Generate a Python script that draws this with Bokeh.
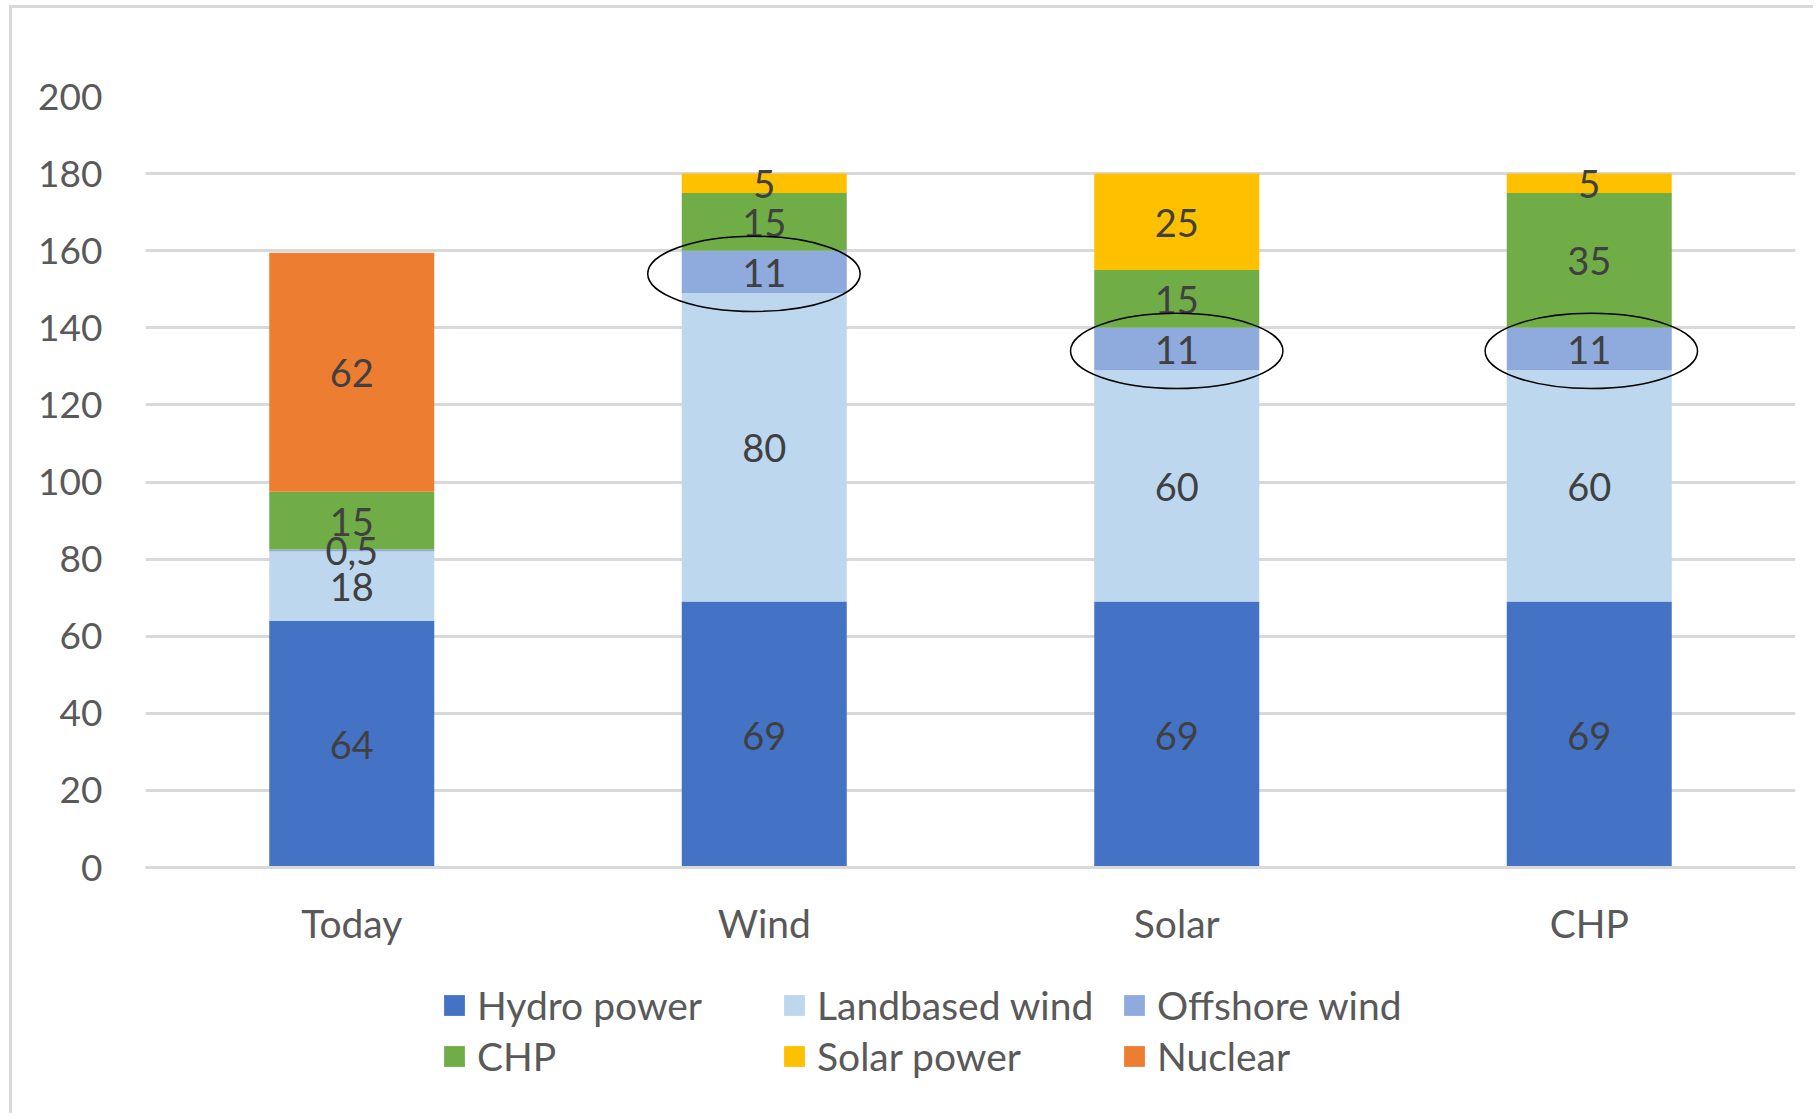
from bokeh.plotting import figure
from bokeh.models import (ColumnDataSource, FactorRange, Range1d, FixedTicker, Legend, LegendItem)
from bokeh.transform import dodge
from bokeh.core.properties import value
from bokeh.embed import file_html
from bokeh.resources import INLINE

# ---------------- data ----------------
categories = ["Today", "Wind", "Solar", "CHP"]
series_names = ["Hydro power", "Landbased wind", "Offshore wind", "CHP", "Solar power", "Nuclear"]
hydro = [64, 69, 69, 69]
landbased = [18, 80, 60, 60]
offshore = [0.5, 11, 11, 11]
chp = [15, 15, 15, 35]
solar = [0, 5, 25, 5]
nuclear = [62, 0, 0, 0]
colors = ["#4472C4", "#BDD7EE", "#8FAADC", "#70AD47", "#FFC000", "#ED7D31"]
y_ticks = [0, 20, 40, 60, 80, 100, 120, 140, 160, 180, 200]
circled_cats = ["Wind", "Solar", "CHP"]   # offshore wind labels circled
circle_offsets = [-0.025, 0.0, 0.005]

FONT = "Lato"
series = [hydro, landbased, offshore, chp, solar, nuclear]
keys = ["s%d" % i for i in range(len(series))]

data = {"cat": categories}
for k, s in zip(keys, series):
    data[k] = s
src = ColumnDataSource(data)

# y range extends below 0 so that the category labels and legend sit inside the frame
p = figure(x_range=FactorRange(*categories), y_range=Range1d(-62.5, 200),
           width=1804, height=1108, output_backend="svg", toolbar_location=None,
           min_border_left=133, min_border_right=21, min_border_top=88, min_border_bottom=8)
p.styles = {"margin-left": "9px", "margin-top": "5px",
            "border-left": "3px solid #d9d9d9", "border-top": "3px solid #d9d9d9"}
p.outline_line_color = None
p.background_fill_color = "white"
p.border_fill_color = "white"

renderers = p.vbar_stack(keys, x="cat", width=0.4, color=colors, source=src, line_color=None)

# data labels
lab_x, lab_y, lab_t = [], [], []
for j, c in enumerate(categories):
    base = 0.0
    for s in series:
        v = s[j]
        if v > 0:
            lab_x.append(c)
            lab_y.append(base + v / 2.0)
            lab_t.append(("%g" % v).replace(".", ","))
        base += v
p.text(x=lab_x, y=lab_y, text=lab_t, text_align="center", text_baseline="middle",
       y_offset=1, text_font=value(FONT), text_font_size="38px", text_color="#404040")

# ellipses around offshore wind labels
for c, off in zip(circled_cats, circle_offsets):
    j = categories.index(c)
    mid = hydro[j] + landbased[j] + offshore[j] / 2.0
    es = ColumnDataSource({"cat": [c], "y": [mid - 0.5]})
    p.ellipse(x=dodge("cat", off, range=p.x_range), y="y", width=0.515, height=19.5,
              source=es, fill_color=None, line_color="black", line_width=1.5)

# axes / grid
p.xgrid.grid_line_color = None
p.ygrid.grid_line_color = "#d9d9d9"
p.ygrid.grid_line_width = 3
p.yaxis.ticker = FixedTicker(ticks=y_ticks)
p.yaxis.axis_line_color = None
p.yaxis.major_tick_line_color = None
p.yaxis.minor_tick_line_color = None
p.yaxis.major_label_standoff = 37
p.yaxis.major_label_text_font = FONT
p.yaxis.major_label_text_font_size = "37px"
p.yaxis.major_label_text_color = "#595959"

p.xaxis.fixed_location = 0
p.xaxis.axis_line_color = "#d9d9d9"
p.xaxis.axis_line_width = 3
p.xaxis.major_tick_line_color = None
p.xaxis.minor_tick_line_color = None
p.xaxis.major_label_standoff = 26
p.xaxis.major_label_text_font = FONT
p.xaxis.major_label_text_font_size = "39px"
p.xaxis.major_label_text_color = "#595959"

# legend
items = [LegendItem(label=n, renderers=[r]) for n, r in zip(series_names, renderers)]
legend = Legend(items=items, orientation="horizontal", ncols=3,
                location=(296, 29), label_text_font=FONT, label_text_font_size="39px",
                label_text_color="#595959", glyph_width=26, glyph_height=26,
                label_standoff=10, label_width=299, spacing=5, padding=0, margin=0,
                border_line_color=None, background_fill_alpha=0)
p.add_layout(legend, "center")

open("out.html", "w").write(file_html(p, INLINE))
